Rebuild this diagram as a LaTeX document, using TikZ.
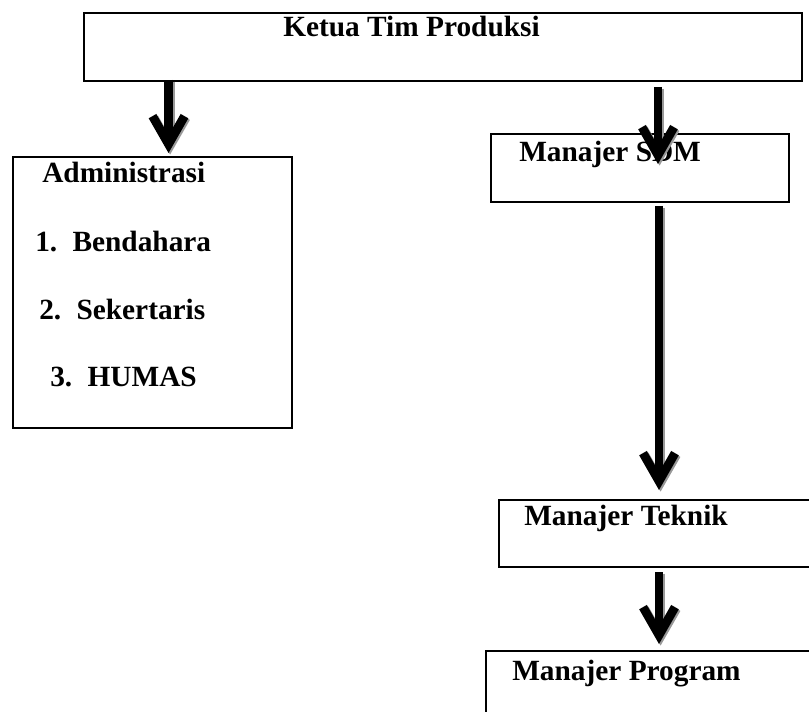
\documentclass[tikz,border=0pt]{standalone}
\usepackage{fontspec}
\setmainfont{Liberation Serif}
\usetikzlibrary{arrows.meta}
\tikzset{
  box/.style={draw=black, line width=1.3pt, inner sep=0pt},
  lbl/.style={anchor=base west, inner sep=0pt, font=\fontsize{22}{26}\selectfont\bfseries},
  bigarrow/.style={line width=6.6pt, -{Straight Barb[length=21pt, width=24pt, line width=6.6pt]}},
  shadowarrow/.style={bigarrow, draw=black!40},
}
\begin{document}
\begin{tikzpicture}[x=0.75pt, y=-0.75pt]
\useasboundingbox (0,0) rectangle (809,712);
\clip (0,0) rectangle (809,712);
% boxes
\node[box, anchor=north west, minimum width=718*0.75pt, minimum height=68*0.75pt] (top) at (83,12) {};
\node[box, anchor=north west, minimum width=279*0.75pt, minimum height=271*0.75pt] (adm) at (12,156) {};
\node[box, anchor=north west, minimum width=298*0.75pt, minimum height=68*0.75pt] (sdm) at (490,133) {};
\node[box, anchor=north west, minimum width=330*0.75pt, minimum height=67*0.75pt] (tek) at (498,499) {};
\node[box, anchor=north west, minimum width=340*0.75pt, minimum height=90*0.75pt] (prg) at (485,650) {};
% texts
\node[lbl] (tketua) at (283,37) {Ketua Tim Produksi};
\node[lbl] (tadm) at (42,183) {Administrasi};
\node[lbl] (t1) at (35,252) {1.\hspace{11.5pt}Bendahara};
\node[lbl] (t2) at (39,320) {2.\hspace{11.5pt}Sekertaris};
\node[lbl] (t3) at (50,387) {3.\hspace{11.5pt}HUMAS};
\node[lbl] (tsdm) at (519,162) {Manajer SDM};
\node[lbl] (ttek) at (524,525) {Manajer Teknik};
\node[lbl] (tprg) at (512,680) {Manajer Program};
% arrow end points
\coordinate (a1s) at (168.5,80);
\coordinate (a1e) at (168.5,153);
\coordinate (a2s) at (658,87);
\coordinate (a2e) at (658,164);
\coordinate (a3s) at (659,206);
\coordinate (a3e) at (659,490);
\coordinate (a4s) at (659,572);
\coordinate (a4e) at (659,644);
% shadows
\foreach \s/\e in {a1s/a1e, a2s/a2e, a3s/a3e, a4s/a4e}{
  \draw[shadowarrow] ([shift={(1.6,1.6)}]\s) -- ([shift={(1.6,1.6)}]\e);
}
\foreach \s/\e in {a1s/a1e, a2s/a2e, a3s/a3e, a4s/a4e}{
  \draw[bigarrow] (\s) -- (\e);
}
\end{tikzpicture}
\end{document}
